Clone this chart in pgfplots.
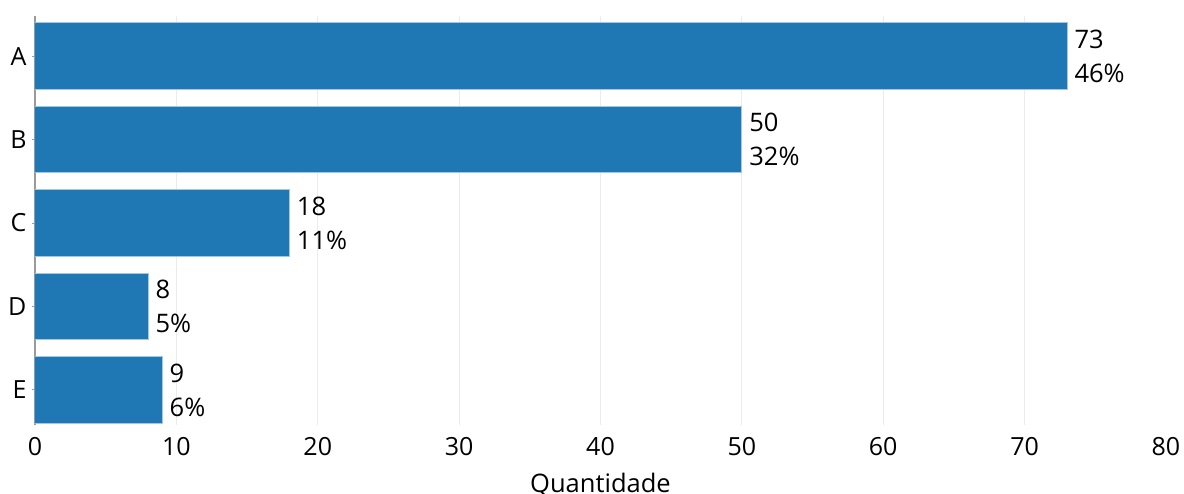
\documentclass[border=0pt]{standalone}
\usepackage{fontspec}
\setmainfont{Open Sans}
\usepackage{pgfplots}
\pgfplotsset{compat=1.18}

\definecolor{barblue}{HTML}{1F77B4}
\definecolor{baredge}{HTML}{A5C8E1}
\definecolor{gridgray}{HTML}{EBEBEB}
\definecolor{axisgray}{HTML}{9A9A9A}

\begin{document}
\begin{tikzpicture}
\begin{axis}[
  name=ax,
  at={(0,0)}, anchor=south west,
  scale only axis,
  width=1131pt, height=409pt,
  xbar, bar width=0.8,
  xmin=0, xmax=80,
  ymin=-0.48, ymax=4.42,
  y dir=reverse,
  ytick={0,1,2,3,4},
  yticklabels={A,B,C,D,E},
  xtick={0,10,...,80},
  extra x ticks={10,20,...,70},
  extra x tick labels={},
  extra x tick style={grid=major, major grid style={draw=gridgray, line width=1pt}},
  axis x line*=bottom, axis y line*=left,
  x axis line style={draw=none},
  y axis line style={draw=axisgray, line width=1.5pt},
  x tick style={draw=none},
  y tick style={draw=axisgray, line width=1pt},
  tick align=outside,
  major tick length=3pt,
  /pgf/number format/assume math mode=true,
  tick label style={font=\fontsize{25}{30}\selectfont, text=black},
  xticklabel style={yshift=-6pt},
  yticklabel style={xshift=-2pt},
  xlabel={Quantidade},
  xlabel style={font=\fontsize{25.5}{30}\selectfont, yshift=-4pt},
  point meta=explicit symbolic,
  nodes near coords,
  nodes near coords align={horizontal},
  every node near coord/.append style={
    anchor=west, align=left, inner xsep=7pt,
    font=\fontsize{25.5}{34}\selectfont, text=black},
]
\addplot[fill=barblue, draw=baredge, line width=1pt] coordinates {
  (73,0) [73\\46\%]
  (50,1) [50\\32\%]
  (18,2) [18\\11\%]
  (8,3)  [8\\5\%]
  (9,4)  [9\\6\%]
};
\end{axis}
\pgfresetboundingbox
\path[use as bounding box] (-35pt,-69pt) rectangle (1149pt,425pt);
\end{tikzpicture}
\end{document}
